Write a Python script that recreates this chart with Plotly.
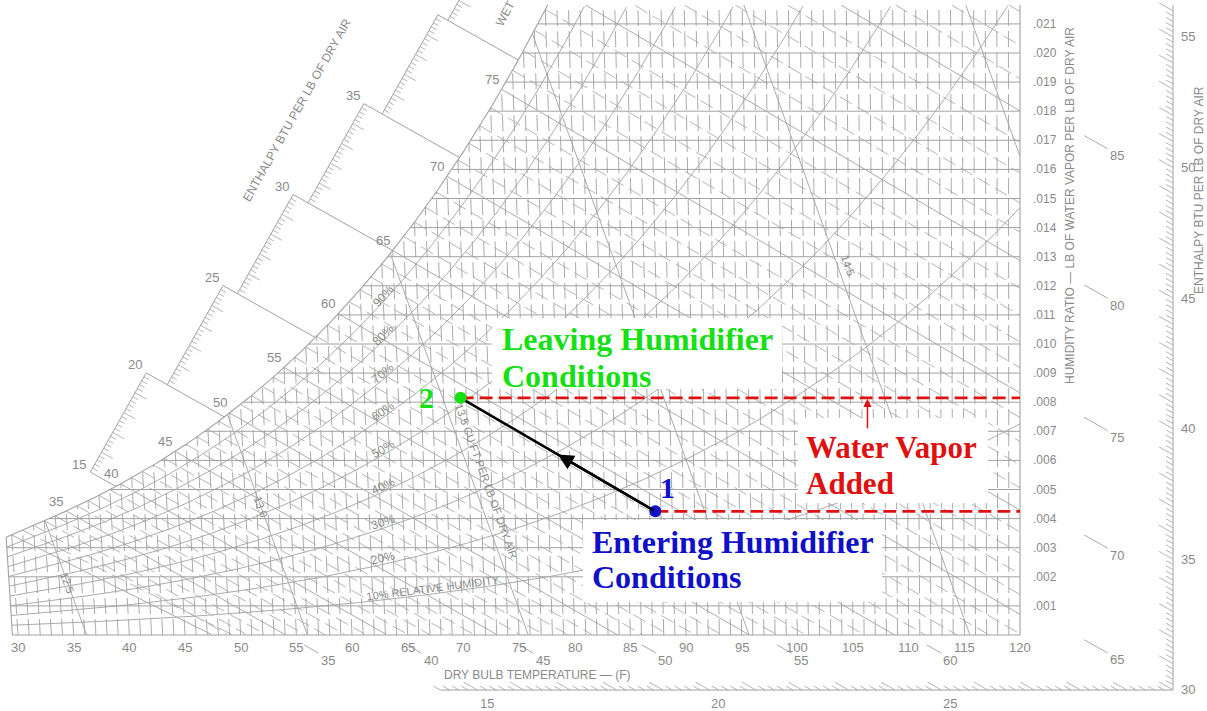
import numpy as np
import plotly.graph_objects as go

# ---------------------------------------------------------------
# Chart values
# ---------------------------------------------------------------
dry_bulb_ticks = list(range(30, 121, 5))                 # deg F
humidity_ticks = [i / 1000 for i in range(1, 22)]        # lb/lb
rh_values = [0.1, 0.2, 0.3, 0.4, 0.5, 0.6, 0.7, 0.8, 0.9]
rh_text = ["10% RELATIVE HUMIDITY", "20%", "30%", "40%", "50%",
           "60%", "70%", "80%", "90%"]
wet_bulb_values = list(range(30, 89))
wet_bulb_labelled = [35, 40, 45, 50, 55, 60, 65, 70, 75]
volume_values = [12.5, 13.0, 13.5, 14.0, 14.5, 15.0]     # cu ft / lb
volume_text_value = [12.5, 13.0, 13.5, 14.5]
volume_text = ["12.5", "13.0", "13.5 CU FT PER LB OF DRY AIR", "14.5"]
volume_text_w = [0.0018, 0.0044, 0.0053, 0.0127]
volume_text_dx = [0, 0, 14, 10]
enthalpy_steps = [15, 20, 25, 30, 35, 40]                # Btu / lb
enthalpy_step_db = [36.5, 43.4, 49.7, 56.05, 62.7, 68.6]
edge_enthalpy_labels = [15, 20, 25, 30, 35, 40, 45, 50, 55]
edge_wet_bulb_marks = [35, 40, 45, 50, 55, 60, 65, 70, 75, 80, 85]

state_names = ["1", "2"]
state_db = [87.5, 70.5]          # deg F
state_w = [0.00425, 0.00815]     # lb water / lb dry air

# ---------------------------------------------------------------
# Page geometry and styling
# ---------------------------------------------------------------
P_ATM = 14.696
FIG_W, FIG_H = 1207, 711
X0, KX = 18.0, 1002.0 / 90.0      # 30 F at x=18 px, 120 F at x=1020 px
Y0, KY = 635.0, 29100.0           # W=0 at y=635 px
W_TOP = (Y0 - 5.0) / KY
T_MIN, T_MAX = 29.5, 120.0
EDGE_PX = (1173.0, 690.0)         # corner of the outer enthalpy scale

GRID = "#a2a2a2"
TEXT = "#8a8a8a"
CAD = "Liberation Sans Narrow, Liberation Sans, Arial, sans-serif"
SERIF = "Liberation Serif, Times New Roman, serif"
GREEN, BLUE, RED = "#14e014", "#1010c8", "#e01010"


def to_data(xp, yp):
    return 30.0 + (np.asarray(xp, float) - X0) / KX, (Y0 - np.asarray(yp, float)) / KY


def to_px(X, W):
    return X0 + (np.asarray(X, float) - 30.0) * KX, Y0 - np.asarray(W, float) * KY


# ---------------------------------------------------------------
# Psychrometric relations (IP units, sea level)
# ---------------------------------------------------------------
def p_ws(t):
    t = np.asarray(t, float)
    T = t + 459.67
    ice = np.exp(-1.0214165e4 / T - 4.8932428 - 5.3765794e-3 * T + 1.9202377e-7 * T ** 2
                 + 3.5575832e-10 * T ** 3 - 9.0344688e-14 * T ** 4 + 4.1635019 * np.log(T))
    liq = np.exp(-1.0440397e4 / T - 1.1294650e1 - 2.7022355e-2 * T + 1.2890360e-5 * T ** 2
                 - 2.4780681e-9 * T ** 3 + 6.5459673 * np.log(T))
    return np.where(t < 32, ice, liq)


def w_from_p(pw):
    return 0.621945 * pw / (P_ATM - pw)


def w_sat(t):
    return w_from_p(p_ws(t))


def w_rh(t, phi):
    return w_from_p(phi * p_ws(t))


def w_wb(t, twb):
    ws = w_sat(twb)
    if twb >= 32:
        return ((1093 - 0.556 * twb) * ws - 0.240 * (t - twb)) / (1093 + 0.444 * t - twb)
    return ((1220 - 0.04 * twb) * ws - 0.240 * (t - twb)) / (1220 + 0.444 * t - 0.48 * twb)


def enthalpy(t, w):
    return 0.240 * t + w * (1061 + 0.444 * t)


def abscissa(t, w):
    # dry-bulb lines lean slightly; the 120 F line is upright
    return t + 1.85 * w * (t - 120.0)


t_grid = np.linspace(20, 140, 24001)
ws_grid = w_sat(t_grid)
hs_grid = enthalpy(t_grid, ws_grid)


def t_sat(w):
    return float(np.interp(w, ws_grid, t_grid))


def t_sat_h(h):
    return float(np.interp(h, hs_grid, t_grid))


def inside_runs(t, w):
    t = np.asarray(t, float)
    w = np.asarray(w, float)
    ok = ((w >= -1e-12) & (w <= W_TOP) & (t >= T_MIN - 1e-9) & (t <= T_MAX + 1e-9)
          & (w <= w_sat(t) + 1e-9))
    X = abscissa(t, w)
    out = []
    idx = np.flatnonzero(ok)
    if idx.size < 2:
        return out
    cut = np.flatnonzero(np.diff(idx) > 1)
    for seg in np.split(idx, cut + 1):
        if seg.size > 1:
            out.append((X[seg], w[seg]))
    return out


fig = go.Figure()


def add_paths(paths, color=GRID, width=1.0, dash="solid"):
    xs, ys = [], []
    for X, W in paths:
        xs += [float(v) for v in X] + [None]
        ys += [float(v) for v in W] + [None]
    fig.add_trace(go.Scatter(x=xs, y=ys, mode="lines", hoverinfo="skip", showlegend=False,
                             line=dict(color=color, width=width, dash=dash)))


def px_path(points):
    xp = [p[0] for p in points]
    yp = [p[1] for p in points]
    X, W = to_data(xp, yp)
    return (X, W)


# ---------------------------------------------------------------
# Chart grid
# ---------------------------------------------------------------
# dry-bulb lines
verticals = []
for T in range(30, 120):
    wend = min(float(w_sat(T)), W_TOP)
    verticals.append(([T, abscissa(T, wend)], [0.0, wend]))
add_paths(verticals, width=0.9, dash="16px,5px")

# wet-bulb lines
wb_dashed, wb_solid = [], []
for twb in wet_bulb_values:
    t = np.linspace(twb, 120, 400)
    runs = inside_runs(t, w_wb(t, twb))
    (wb_solid if twb % 5 == 0 else wb_dashed).extend(runs)
add_paths(wb_dashed, width=0.8, dash="14px,6px")
add_paths(wb_solid, width=0.9)

# humidity-ratio lines
horizontals = []
for W in humidity_ticks:
    ts = max(t_sat(W), T_MIN)
    horizontals.append(([abscissa(ts, W), 120.0], [W, W]))
add_paths(horizontals, width=1.0)

# relative humidity curves
rh_paths = []
t_line = np.linspace(T_MIN, 120, 600)
for phi in rh_values:
    rh_paths += inside_runs(t_line, w_rh(t_line, phi))
add_paths(rh_paths, width=0.9)

# specific volume lines
vol_paths = []
w_line = np.linspace(0, W_TOP, 900)
for v in volume_values:
    t = v * P_ATM / (0.370486 * (1 + 1.607858 * w_line)) - 459.67
    vol_paths += inside_runs(t, w_line)
add_paths(vol_paths, width=0.9)

# saturation curve and chart border
t_s = np.linspace(T_MIN, t_sat(W_TOP), 400)
w_s = w_sat(t_s)
ws_left = float(w_sat(T_MIN))
add_paths([
    (abscissa(t_s, w_s), w_s),
    ([T_MIN, 120.0, 120.0], [0.0, 0.0, W_TOP]),
    ([T_MIN, abscissa(T_MIN, ws_left)], [0.0, ws_left]),
], width=1.1)

# ---------------------------------------------------------------
# Stepped enthalpy scale beyond the saturation curve
# ---------------------------------------------------------------
u = np.array([KX * 1114.28 / 0.24, KY])
u = u / np.hypot(*u)                  # along a constant-enthalpy line (down-right)
n = np.array([u[1], -u[0]])           # across enthalpy lines (rising enthalpy)
STEP = KX / 0.24 * u[1]               # px per Btu across the lines

stair, ticks = [], []
corners = {}
for h0, xdb in zip(enthalpy_steps, enthalpy_step_db):
    w0 = (h0 - 0.24 * xdb) / 1114.28
    p0 = np.array([float(v) for v in to_px(xdb, w0)])
    p1 = p0 + 5 * STEP * n
    stair.append(px_path([p0, p1]))
    corners.setdefault(h0, p0)
    corners[h0 + 5] = p1
    for j in range(1, 25):
        q = p0 + 0.2 * j * STEP * n
        L = 13 if j % 5 == 0 else 6
        ticks.append(px_path([q, q + L * u]))

for h in enthalpy_steps:
    ts = t_sat_h(h)
    ws = float(w_sat(ts))
    end = np.array([float(v) for v in to_px(abscissa(ts, ws), ws)])
    stair.append(px_path([corners[h], end]))
add_paths(stair, width=1.0)
add_paths(ticks, width=0.8)

# outer enthalpy scale (bottom and right edges)
W_EDGE = (Y0 - EDGE_PX[1]) / KY
X_EDGE = 30 + (EDGE_PX[0] - X0) / KX


def edge_point(h):
    xb = (h - 1114.28 * W_EDGE) / 0.24
    if xb <= X_EDGE:
        return np.array([float(v) for v in to_px(xb, W_EDGE)]), "bottom"
    w = (h - 0.24 * X_EDGE) / 1114.28
    return np.array([float(v) for v in to_px(X_EDGE, w)]), "right"


start_pt, _ = edge_point(14.2)
edge_lines = [px_path([start_pt, EDGE_PX, (EDGE_PX[0], 5.0)])]
edge_ticks = []
for k in range(142, 562, 2):
    S, _ = edge_point(k / 10)
    if S[1] < 4:
        continue
    L = 16 if k % 10 == 0 else 8
    edge_ticks.append(px_path([S - L * u, S]))
mark_paths = []
mark_labels = []
for twb in edge_wet_bulb_marks:
    h = float(enthalpy(twb, w_sat(twb)))
    S, side = edge_point(h)
    L = 17 if side == "bottom" else 27
    a = S - 75 * u
    b = S - (75 + L) * u
    mark_paths.append(px_path([b, a]))
    mark_labels.append((a + np.array([9, 7]), str(twb)))
add_paths(edge_lines, width=1.0)
add_paths(edge_ticks, width=0.8)
add_paths(mark_paths, width=0.9)

# ---------------------------------------------------------------
# White panels behind the process labels
# ---------------------------------------------------------------
panels = [(492, 782, 318, 389), (798, 988, 418, 503), (583, 882, 520, 602)]
for xl, xr, yt, yb in panels:
    X, W = to_data([xl, xr, xr, xl, xl], [yt, yt, yb, yb, yt])
    fig.add_trace(go.Scatter(x=X, y=W, mode="lines", fill="toself", fillcolor="white",
                             line=dict(width=0, color="white"), hoverinfo="skip",
                             showlegend=False))

# ---------------------------------------------------------------
# Humidification process 1 -> 2
# ---------------------------------------------------------------
state_x = [abscissa(t, w) for t, w in zip(state_db, state_w)]
for sx, sw in zip(state_x, state_w):
    fig.add_trace(go.Scatter(x=[sx, 120.0], y=[sw, sw], mode="lines", hoverinfo="skip",
                             showlegend=False,
                             line=dict(color=RED, width=2.6, dash="13px,6px")))
fig.add_trace(go.Scatter(x=state_x, y=state_w, mode="lines", hoverinfo="skip",
                         showlegend=False, line=dict(color="black", width=2.6)))
fig.add_trace(go.Scatter(x=state_x, y=state_w, mode="markers", hoverinfo="skip",
                         showlegend=False,
                         marker=dict(size=12, color=[BLUE, GREEN], line=dict(width=0))))

# ---------------------------------------------------------------
# Text
# ---------------------------------------------------------------
annotations = []


def label(xp, yp, text, size=12, angle=0, color=TEXT, xanchor="center", family=CAD):
    X, W = to_data(xp, yp)
    annotations.append(dict(x=float(X), y=float(W), xref="x", yref="y", text=text,
                            showarrow=False, textangle=angle, xanchor=xanchor,
                            yanchor="middle",
                            font=dict(family=family, size=size, color=color)))


for T in dry_bulb_ticks:
    xp, _ = to_px(T, 0)
    label(float(xp), 647, str(T), size=13)

for W in humidity_ticks:
    _, yp = to_px(120, W)
    label(1031, float(yp), "." + f"{int(round(W * 1000)):03d}", size=12, xanchor="left")

for phi, txt in zip(rh_values, rh_text):
    target = 67.3 if phi == 0.1 else 62.8
    t = np.linspace(T_MIN, 120, 4000)
    X = abscissa(t, w_rh(t, phi))
    t0 = float(np.interp(target, X, t))
    a = np.array(to_px(abscissa(t0 - 0.5, w_rh(t0 - 0.5, phi)), w_rh(t0 - 0.5, phi)), float)
    b = np.array(to_px(abscissa(t0 + 0.5, w_rh(t0 + 0.5, phi)), w_rh(t0 + 0.5, phi)), float)
    ang = float(np.degrees(np.arctan2(b[1] - a[1], b[0] - a[0])))
    c = (a + b) / 2
    label(c[0], c[1] - 6, txt, size=11 if phi == 0.1 else 12, angle=ang)

for twb in wet_bulb_labelled:
    ws = float(w_sat(twb))
    xp, yp = to_px(abscissa(twb, ws), ws)
    label(float(xp) - 10, float(yp) - 10, str(twb), size=13)

for v, txt, w, dx in zip(volume_text_value, volume_text, volume_text_w, volume_text_dx):
    tv = lambda ww: v * P_ATM / (0.370486 * (1 + 1.607858 * ww)) - 459.67
    a = np.array(to_px(abscissa(tv(w + 0.0005), w + 0.0005), w + 0.0005), float)
    b = np.array(to_px(abscissa(tv(w - 0.0005), w - 0.0005), w - 0.0005), float)
    ang = float(np.degrees(np.arctan2(b[1] - a[1], b[0] - a[0])))
    c = (a + b) / 2
    label(c[0] + dx, c[1], txt, size=11, angle=ang)

for h in [15, 20, 25, 30, 35]:
    p = corners[h]
    label(p[0] - 11, p[1] - 8, str(h), size=13)

for h in edge_enthalpy_labels:
    S, side = edge_point(h)
    if side == "bottom":
        label(S[0] + 9, S[1] + 13, str(h), size=13)
    else:
        label(S[0] + 15, S[1], str(h), size=13)

for pos, txt in mark_labels:
    label(pos[0], pos[1], txt, size=13)

label(297, 110, "ENTHALPY BTU PER LB OF DRY AIR", size=12, angle=-60.6)
label(1070, 206, "HUMIDITY RATIO \u2014 LB OF WATER VAPOR PER LB OF DRY AIR", size=12, angle=-90)
label(1199, 190, "ENTHALPY BTU PER LB OF DRY AIR", size=12, angle=-90)
label(442, 675, "DRY BULB TEMPERATURE \u2014 (F)", size=12, xanchor="left")
label(505, 14, "WET", size=12, angle=-62)

# process annotations
label(500, 339, "<b>Leaving Humidifier</b>", size=32, color=GREEN, xanchor="left", family=SERIF)
label(500, 376, "<b>Conditions</b>", size=32, color=GREEN, xanchor="left", family=SERIF)
label(804, 447, "<b>Water Vapor</b>", size=31, color=RED, xanchor="left", family=SERIF)
label(804, 483, "<b>Added</b>", size=31, color=RED, xanchor="left", family=SERIF)
label(590, 542, "<b>Entering Humidifier</b>", size=32, color=BLUE, xanchor="left", family=SERIF)
label(590, 577, "<b>Conditions</b>", size=32, color=BLUE, xanchor="left", family=SERIF)

s1 = np.array(to_px(state_x[0], state_w[0]), float)
s2 = np.array(to_px(state_x[1], state_w[1]), float)
label(s1[0] + 12, s1[1] - 24, "<b>" + state_names[0] + "</b>", size=30, color=BLUE, family=SERIF)
label(s2[0] - 34, s2[1], "<b>" + state_names[1] + "</b>", size=30, color=GREEN, family=SERIF)

# direction arrow half way along the process line
mid_x = (state_x[0] + state_x[1]) / 2
mid_w = (state_w[0] + state_w[1]) / 2
annotations.append(dict(x=mid_x, y=mid_w, ax=state_x[0], ay=state_w[0], xref="x", yref="y",
                        axref="x", ayref="y", text="", showarrow=True, arrowhead=2,
                        arrowsize=1.3, arrowwidth=2.4, arrowcolor="black", standoff=0))

# water vapour added arrow
vapor_x = 106.3
annotations.append(dict(x=vapor_x, y=state_w[1], ax=vapor_x, ay=state_w[1] - 0.0011,
                        xref="x", yref="y", axref="x", ayref="y", text="", showarrow=True,
                        arrowhead=2, arrowsize=1.1, arrowwidth=1.5, arrowcolor=RED, standoff=1))

x_lo = float(to_data(0, 0)[0])
x_hi = float(to_data(FIG_W, 0)[0])
y_lo = float(to_data(0, FIG_H)[1])
y_hi = float(to_data(0, 0)[1])

fig.update_layout(
    width=FIG_W, height=FIG_H,
    margin=dict(l=0, r=0, t=0, b=0),
    paper_bgcolor="white", plot_bgcolor="white",
    xaxis=dict(range=[x_lo, x_hi], visible=False, fixedrange=True),
    yaxis=dict(range=[y_lo, y_hi], visible=False, fixedrange=True),
    showlegend=False,
    annotations=annotations,
)

fig.write_html("out.html", config={"displayModeBar": False})
